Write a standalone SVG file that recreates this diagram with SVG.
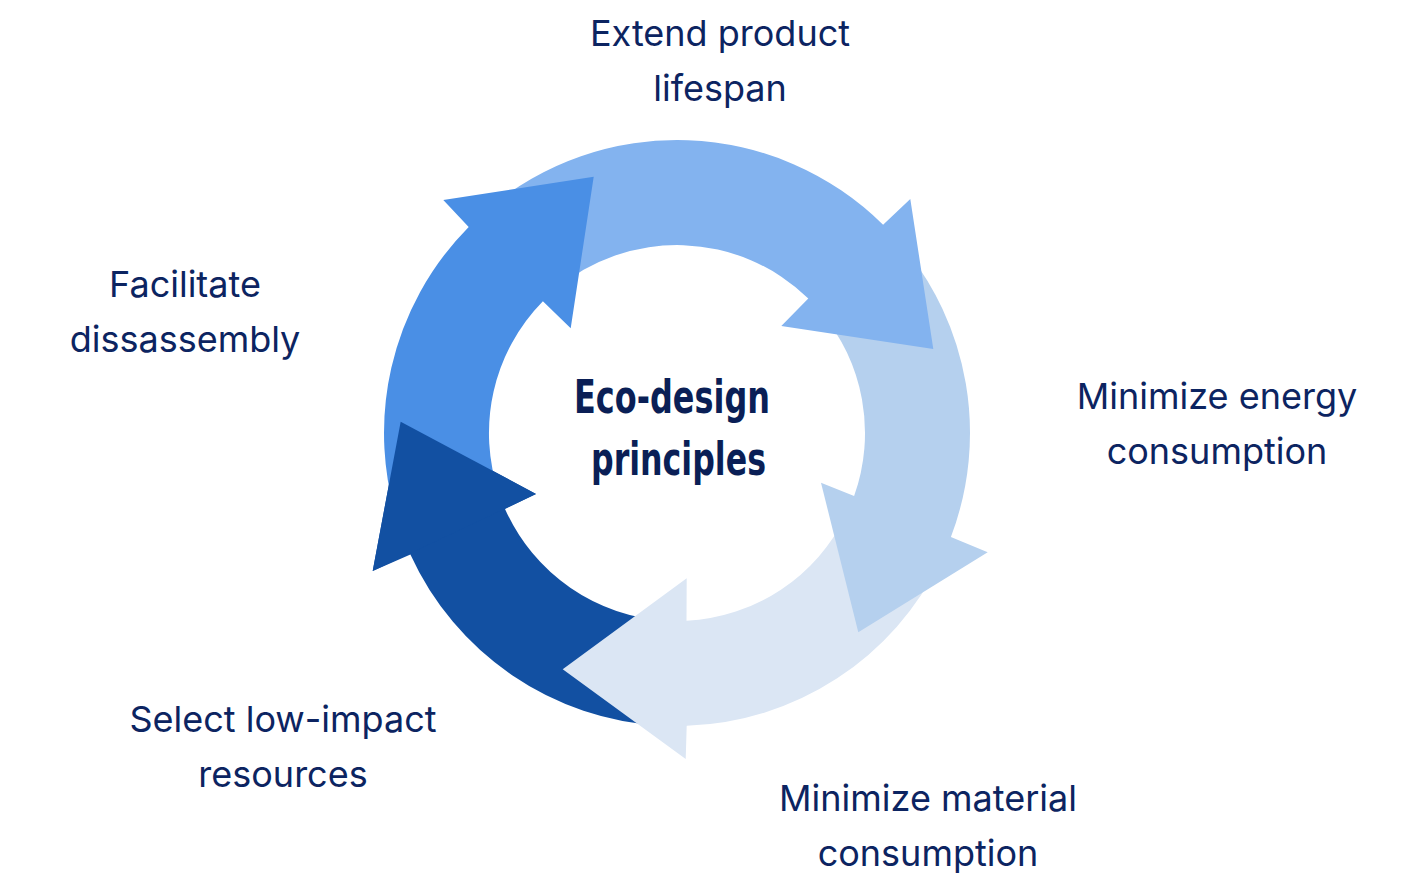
<svg xmlns="http://www.w3.org/2000/svg" xmlns:xlink="http://www.w3.org/1999/xlink" width="1402" height="888" viewBox="0 0 1402 888">
<style>
.c1{fill:#4A8FE5}
.c2{fill:#83B3EF}
.c3{fill:#B5D0EE}
.c4{fill:#DBE6F4}
.c5{fill:#1250A2}
.lbl{font-family:Inter,"Open Sans","Liberation Sans",sans-serif;font-size:36px;fill:#0C2461;text-anchor:middle}
.ttl{font-family:"Liberation Sans Narrow","DejaVu Sans Condensed",Roboto,sans-serif;font-weight:bold;font-size:47px;fill:#0A1F56}
</style>
<defs>
<polygon id="head5" points="372.7,571 400.7,421.7 536,494"/>
</defs>
<rect width="1402" height="888" fill="#ffffff"/>
<g id="connectors">
<g id="arrow-dark">
<path class="c5" d="M661.7,725.6 A293,293 0 0 1 410.4,554.5 L372.7,571 L400.7,421.7 L536,494 L505,508.9 A188,188 0 0 0 667.2,620.7 Z"/>
</g>
<g id="arrow-lightest">
<path class="c4" d="M940.8,560.5 A293,293 0 0 1 686.7,725.8 L685.7,759 L562.7,669.3 L686.7,578.3 L686.5,620.8 A188,188 0 0 0 846.3,514.8 Z"/>
</g>
<g id="arrow-pale">
<path class="c3" d="M900.5,243.5 A293,293 0 0 1 950.9,537 L987.7,552.3 L858.3,632.3 L821,482.7 L854.1,496.1 A188,188 0 0 0 820.4,311.4 Z"/>
</g>
<g id="arrow-light">
<path class="c2" d="M487.1,209.9 A293,293 0 0 1 883.1,224.7 L910.3,199 L933.3,349 L781.3,326 L808.3,298.5 A188,188 0 0 0 555.2,289.8 Z"/>
</g>
<g id="arrow-mid">
<path class="c1" d="M400,528.4 A293,293 0 0 1 468.7,226.9 L443.3,200 L593.7,176.7 L570.7,328.3 L542.9,301.2 A188,188 0 0 0 499.2,494.2 Z"/>
</g>
<g id="arrow-dark-head">
<use xlink:href="#head5" class="c5"/>
</g>
</g>
<g id="center">
<text class="ttl" x="574" y="413" textLength="196" lengthAdjust="spacingAndGlyphs">Eco-design</text>
<text class="ttl" x="591" y="475" textLength="175" lengthAdjust="spacingAndGlyphs">principles</text>
</g>
<g id="label-extend">
<text class="lbl" x="720" y="46">Extend product</text>
<text class="lbl" x="720" y="101">lifespan</text>
</g>
<g id="label-energy">
<text class="lbl" x="1217" y="409">Minimize energy</text>
<text class="lbl" x="1217" y="464">consumption</text>
</g>
<g id="label-material">
<text class="lbl" x="928" y="811">Minimize material</text>
<text class="lbl" x="928" y="866">consumption</text>
</g>
<g id="label-select">
<text class="lbl" x="283" y="732">Select low-impact</text>
<text class="lbl" x="283" y="787">resources</text>
</g>
<g id="label-facilitate">
<text class="lbl" x="185" y="297">Facilitate</text>
<text class="lbl" x="185" y="352">dissassembly</text>
</g>
</svg>
